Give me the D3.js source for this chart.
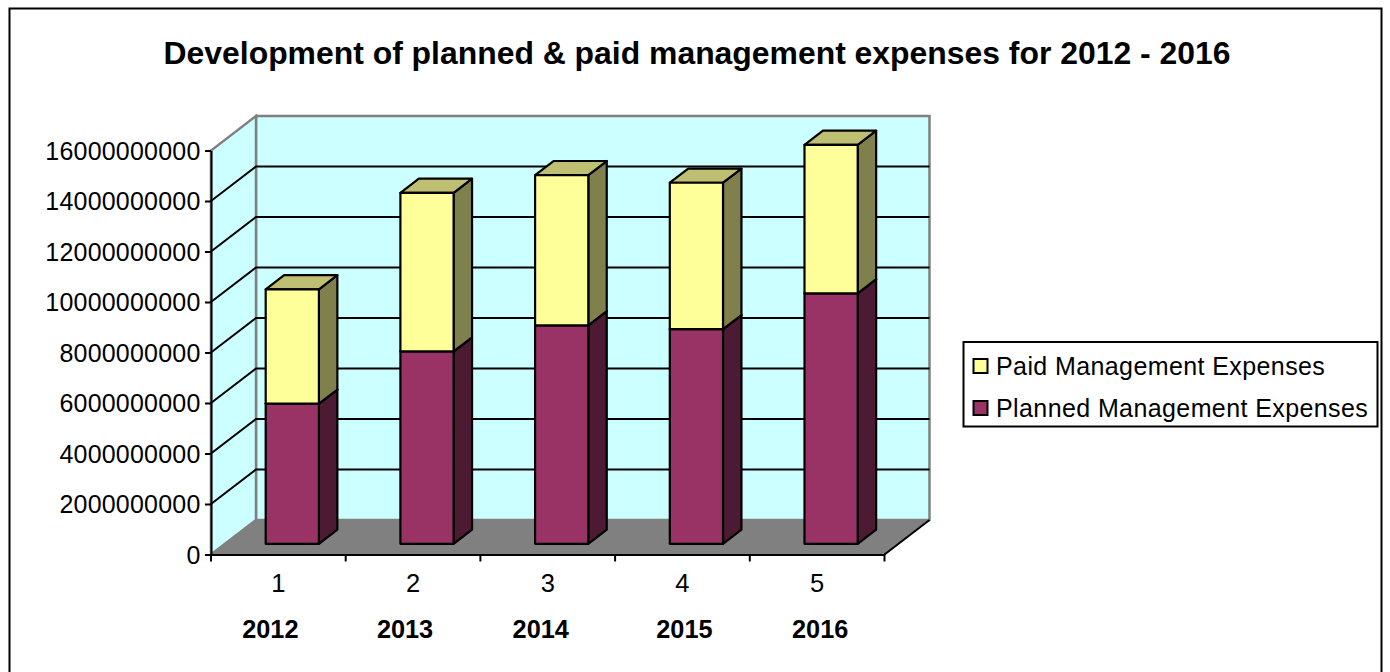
<!DOCTYPE html>
<html><head><meta charset="utf-8">
<script src="https://cdnjs.cloudflare.com/ajax/libs/d3/7.8.5/d3.min.js"></script>
<style>html,body{margin:0;padding:0;background:#fff;overflow:hidden}svg{display:block}text{font-family:"Liberation Sans",Arial,sans-serif;fill:#000}</style>
</head><body><svg id="c" width="1390" height="672"></svg>
<script>
const categories = ["1","2","3","4","5"];
const years = ["2012","2013","2014","2015","2016"];
const planned = [5.55e9, 7.62e9, 8.65e9, 8.5e9, 9.92e9];
const paid = [4.53e9, 6.28e9, 5.95e9, 5.8e9, 5.88e9];
const yTicks = d3.range(0, 16000000001, 2000000000);
const title = "Development of planned & paid management expenses for 2012 - 2016";
const seriesNames = ["Paid Management Expenses","Planned Management Expenses"];
const colors = {planned:{front:"#993366",top:"#4D1A33",side:"#4D1A33"},paid:{front:"#FFFF99",top:"#BFBF73",side:"#80804D"}};

const svg = d3.select("#c");
svg.append("rect").attr("x",9.5).attr("y",8.5).attr("width",1372).attr("height",680).attr("fill","#fff").attr("stroke","#000").attr("stroke-width",2);
svg.append("text").attr("x",697).attr("y",64).attr("text-anchor","middle").attr("font-size",31.9).attr("font-weight","bold").text(title);

const y = d3.scaleLinear().domain([0,16e9]).range([554.5,150.5]);
const x = d3.scaleBand().domain(categories).range([211,884.5]);
const DX=45, DY=34.5;
const pr = (px,v,d)=>[px+d*DX, y(v)-d*DY];
const line = pts=>"M"+pts.map(p=>p.join(",")).join("L")+"Z";
const x0=x.range()[0], x1=x.range()[1], vMax=y.domain()[1];

// walls
svg.append("path").attr("d",line([pr(x0,0,1),pr(x0,vMax,1),pr(x1,vMax,1),pr(x1,0,1)])).attr("fill","#CCFFFF").attr("stroke","#808080").attr("stroke-width",2.5);
svg.append("path").attr("d",line([pr(x0,0,0),pr(x0,vMax,0),pr(x0,vMax,1),pr(x0,0,1)])).attr("fill","#CCFFFF").attr("stroke","#808080").attr("stroke-width",2.5);
svg.append("path").attr("d",line([pr(x0,0,0),pr(x1,0,0),pr(x1,0,1),pr(x0,0,1)])).attr("fill","#808080").attr("stroke","#808080").attr("stroke-width",1);
// outlined edge of the floor on the right
svg.append("line").attr("x1",pr(x1,0,0)[0]).attr("y1",pr(x1,0,0)[1]).attr("x2",pr(x1,0,1)[0]).attr("y2",pr(x1,0,1)[1]).attr("stroke","#000").attr("stroke-width",2);
// gridlines
yTicks.slice(1,-1).forEach(t=>{
  svg.append("path").attr("fill","none").attr("stroke","#000").attr("stroke-width",2)
    .attr("d","M"+[pr(x0,t,0),pr(x0,t,1),pr(x1,t,1)].map(p=>p.join(",")).join("L"));
});
// bars
const dF=0.31, dB=0.72;
const bw=x.bandwidth()*0.395, bx=c=>x(c)+x.bandwidth()/2-bw/2;
function box(c,v0,v1,col){
  const l=bx(c), r=l+bw, g=svg.append("g").attr("stroke","#000").attr("stroke-width",2.2).attr("stroke-linejoin","round");
  g.append("path").attr("d",line([pr(r,v0,dF),pr(r,v1,dF),pr(r,v1,dB),pr(r,v0,dB)])).attr("fill",col.side);
  g.append("path").attr("d",line([pr(l,v1,dF),pr(r,v1,dF),pr(r,v1,dB),pr(l,v1,dB)])).attr("fill",col.top);
  g.append("path").attr("d",line([pr(l,v0,dF),pr(r,v0,dF),pr(r,v1,dF),pr(l,v1,dF)])).attr("fill",col.front);
}
categories.forEach((c,i)=>{
  box(c,0,planned[i],colors.planned);
  box(c,planned[i],planned[i]+paid[i],colors.paid);
});
// axes
const axY=svg.append("g").attr("transform",`translate(${x0},0)`).call(d3.axisLeft(y).tickValues(yTicks).tickSize(6).tickSizeOuter(0).tickFormat(d3.format("d")));
axY.select(".domain").attr("stroke","#000").attr("stroke-width",2);
axY.selectAll("line").attr("stroke","#000").attr("stroke-width",2);
axY.selectAll("text").attr("font-size",25).attr("letter-spacing","0.2px").attr("x",-10.5).attr("dy","0.34em").style("fill","#000");
const axX=svg.append("g").attr("transform",`translate(0,${y(0)})`).call(d3.axisBottom(x).tickSize(0));
axX.select(".domain").attr("stroke","#000").attr("stroke-width",2);
axX.selectAll("text").attr("font-size",25.5).attr("y",19).style("fill","#000");
[...x.domain().map(c=>x(c)),x1].forEach(t=>svg.append("line").attr("x1",t).attr("x2",t).attr("y1",y(0)).attr("y2",y(0)+7).attr("stroke","#000").attr("stroke-width",2));
const yearShift=[-8,-8,-7,2,3];
years.forEach((t,i)=>svg.append("text").attr("x",x(categories[i])+x.bandwidth()/2+yearShift[i]).attr("y",638).attr("text-anchor","middle").attr("font-weight","bold").attr("font-size",25.3).text(t));
// legend
svg.append("rect").attr("x",963.5).attr("y",342).attr("width",414).attr("height",84.5).attr("fill","#fff").attr("stroke","#000").attr("stroke-width",2);
const legendColors=[colors.paid.front,colors.planned.front];
seriesNames.forEach((n,i)=>{
  const cy=366+i*42;
  svg.append("rect").attr("x",973.5).attr("y",cy-7).attr("width",14).attr("height",14).attr("fill",legendColors[i]).attr("stroke","#000").attr("stroke-width",2);
  svg.append("text").attr("x",996).attr("y",cy+8.5).attr("font-size",25).attr("letter-spacing","0.4px").text(n);
});
</script></body></html>
